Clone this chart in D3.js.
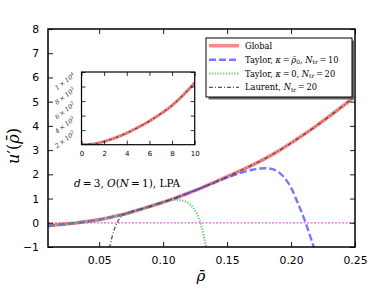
<!DOCTYPE html>
<html><head><meta charset="utf-8">
<script src="https://cdn.jsdelivr.net/npm/d3@7"></script>
<style>body{margin:0;background:#fff}svg{display:block}</style>
</head><body>
<script>
// ---------- data ----------
const globalRho = [0.01,0.02,0.03,0.04,0.05,0.06,0.07,0.08,0.09,0.10,0.11,0.12,0.13,0.14,0.15,0.16,0.17,0.18,0.19,0.20,0.21,0.22,0.23,0.24,0.25];
const globalU   = [-0.12,-0.07,-0.02,0.05,0.13,0.24,0.36,0.52,0.68,0.85,1.03,1.23,1.44,1.67,1.90,2.14,2.39,2.66,2.96,3.29,3.64,4.01,4.40,4.80,5.22];
const taylor1Rho = [0.01,0.02,0.03,0.04,0.05,0.06,0.07,0.08,0.09,0.10,0.11,0.12,0.13,0.14,0.15,0.16,0.17,0.175,0.18,0.185,0.19,0.195,0.20,0.205,0.21,0.214,0.218];
const taylor1U   = [-0.12,-0.07,-0.02,0.05,0.13,0.24,0.36,0.52,0.68,0.85,1.03,1.23,1.44,1.66,1.87,2.05,2.19,2.24,2.25,2.22,2.10,1.85,1.45,0.85,0.20,-0.40,-1.05];
const taylor2Rho = [0.01,0.02,0.03,0.04,0.05,0.06,0.07,0.08,0.09,0.10,0.105,0.11,0.115,0.12,0.125,0.128,0.13,0.132,0.134];
const taylor2U   = [-0.12,-0.07,-0.02,0.05,0.13,0.24,0.36,0.52,0.68,0.84,0.92,0.95,0.92,0.80,0.50,0.20,-0.15,-0.60,-1.10];
const laurentRho = [0.058,0.06,0.062,0.064,0.066,0.068,0.07,0.08,0.09,0.10,0.11,0.12,0.13,0.14,0.15,0.16,0.17,0.18,0.19,0.20,0.21,0.22,0.23,0.24,0.25];
const laurentU   = [-1.05,-0.60,-0.25,0.00,0.18,0.29,0.36,0.52,0.68,0.85,1.03,1.23,1.44,1.67,1.90,2.14,2.39,2.66,2.96,3.29,3.64,4.01,4.40,4.80,5.22];
const insetRho = [0,1,2,3,4,5,6,7,8,9,10];
const insetU   = [0,100,450,960,1600,2380,3250,4250,5400,6850,8500];
const xTicks = [0.05,0.10,0.15,0.20,0.25];
const xTickLabels = ["0.05","0.10","0.15","0.20","0.25"];
const yTicks = [-1,0,1,2,3,4,5,6,7,8];
const yTickLabels = ["\u22121","0","1","2","3","4","5","6","7","8"];
const insetXTicks = [0,2,4,6,8,10];
const insetYTicks = [2000,4000,6000,8000,10000];
const insetYTickLabels = [["2","3"],["4","3"],["6","3"],["8","3"],["1","4"]];
const legendLabels = ["Global","Taylor1","Taylor2","Laurent"];

// ---------- layout ----------
const W=374,H=291;
const M={l:48,r:355,t:29,b:247};
const I={l:81.5,r:194.7,t:72,b:144.7};
const svg=d3.select("body").append("svg").attr("width",W).attr("height",H);
const x=d3.scaleLinear().domain([0.01,0.25]).range([M.l,M.r]);
const y=d3.scaleLinear().domain([-1,8]).range([M.b,M.t]);
const xi=d3.scaleLinear().domain([0,10]).range([I.l,I.r]);
const yi=d3.scaleLinear().domain([0,10000]).range([I.b,I.t]);
const sans="'DejaVu Sans', sans-serif";
const serif="'DejaVu Serif','Liberation Serif', serif";
const defs=svg.append("defs");
defs.append("clipPath").attr("id","cm").append("rect").attr("x",M.l).attr("y",M.t).attr("width",M.r-M.l).attr("height",M.b-M.t);
defs.append("clipPath").attr("id","ci").append("rect").attr("x",I.l).attr("y",I.t).attr("width",I.r-I.l).attr("height",I.b-I.t);

const styles={
 Global:{stroke:"#ff3b3b",w:3.6,op:0.6,dash:null},
 Taylor1:{stroke:"#4b4bff",w:2.4,op:0.75,dash:"7,3"},
 Taylor2:{stroke:"#4cbb4c",w:2.2,op:0.75,dash:"1.4,1.4"},
 Laurent:{stroke:"#444",w:1.3,op:0.9,dash:"4,2,1,2"}
};
function draw(g,xs,ys,X,Y,st){
  const line=d3.line().x(d=>X(d[0])).y(d=>Y(d[1])).curve(d3.curveMonotoneX);
  const p=g.append("path").datum(d3.zip(xs,ys)).attr("d",line).attr("fill","none")
   .attr("stroke",st.stroke).attr("stroke-width",st.w).attr("stroke-opacity",st.op);
  if(st.dash) p.attr("stroke-dasharray",st.dash);
}
// ---------- main plot ----------
const gm=svg.append("g").attr("clip-path","url(#cm)");
gm.append("line").attr("x1",M.l).attr("x2",M.r).attr("y1",y(0)).attr("y2",y(0))
  .attr("stroke","#d86ad8").attr("stroke-width",1.3).attr("stroke-dasharray","2,1.5");
draw(gm,globalRho,globalU,x,y,styles.Global);
draw(gm,taylor1Rho,taylor1U,x,y,styles.Taylor1);
draw(gm,taylor2Rho,taylor2U,x,y,styles.Taylor2);
draw(gm,laurentRho,laurentU,x,y,styles.Laurent);

// axes
const ax=svg.append("g");
ax.append("g").attr("transform",`translate(0,${M.b})`).call(d3.axisBottom(x).tickValues(xTicks).tickFormat((d,i)=>xTickLabels[i]).tickSizeInner(-5).tickSizeOuter(0).tickPadding(9));
ax.append("g").attr("transform",`translate(0,${M.t})`).call(d3.axisTop(x).tickValues(xTicks).tickFormat("").tickSizeInner(-5).tickSizeOuter(0));
ax.append("g").attr("transform",`translate(${M.l},0)`).call(d3.axisLeft(y).tickValues(yTicks).tickFormat((d,i)=>yTickLabels[i]).tickSizeInner(-5).tickSizeOuter(0).tickPadding(9));
ax.append("g").attr("transform",`translate(${M.r},0)`).call(d3.axisRight(y).tickValues(yTicks).tickFormat("").tickSizeInner(-5).tickSizeOuter(0));
ax.selectAll(".domain").remove();
ax.selectAll("text").attr("font-family",sans).attr("font-size",10.8).attr("fill","#000");
ax.selectAll(".tick line").attr("stroke","#000").attr("stroke-width",0.9);
svg.append("rect").attr("x",M.l).attr("y",M.t).attr("width",M.r-M.l).attr("height",M.b-M.t)
  .attr("fill","none").attr("stroke","#000").attr("stroke-width",1.5);

// axis labels
const yl=svg.append("text").attr("transform","translate(19,146) rotate(-90)").attr("text-anchor","middle")
  .attr("font-family",serif).attr("font-size",16);
yl.append("tspan").attr("font-style","italic").text("u");
yl.append("tspan").text("\u2032(");
yl.append("tspan").attr("font-style","italic").text("\u03C1\u0304");
yl.append("tspan").text(")");
svg.append("text").attr("x",201).attr("y",281).attr("text-anchor","middle").attr("font-family",serif)
  .attr("font-size",15).attr("font-style","italic").text("\u03C1\u0304");

// annotation
const an=svg.append("text").attr("x",74).attr("y",187).attr("font-family",serif).attr("font-size",10.5);
an.append("tspan").attr("font-style","italic").text("d");
an.append("tspan").text("\u2009=\u20093, ");
an.append("tspan").attr("font-style","italic").text("O");
an.append("tspan").text("(");
an.append("tspan").attr("font-style","italic").text("N");
an.append("tspan").text("\u2009=\u20091), LPA");

// ---------- inset ----------
svg.append("rect").attr("x",I.l).attr("y",I.t).attr("width",I.r-I.l).attr("height",I.b-I.t).attr("fill","#fff");
const gi=svg.append("g").attr("clip-path","url(#ci)");
draw(gi,insetRho,insetU,xi,yi,{stroke:"#ff3b3b",w:3.2,op:0.6,dash:null});
draw(gi,insetRho.slice(0,2),insetU.slice(0,2),xi,yi,{stroke:"#4b4bff",w:2,op:0.7,dash:"4,2"});
draw(gi,insetRho,insetU,xi,yi,{stroke:"#333",w:1.1,op:0.9,dash:"3,1.5,1,1.5"});
const ia=svg.append("g");
ia.append("g").attr("transform",`translate(0,${I.b})`).call(d3.axisBottom(xi).tickValues(insetXTicks).tickSizeInner(-4).tickSizeOuter(0).tickPadding(6));
ia.append("g").attr("transform",`translate(0,${I.t})`).call(d3.axisTop(xi).tickValues(insetXTicks).tickFormat("").tickSizeInner(-4).tickSizeOuter(0));
ia.append("g").attr("transform",`translate(${I.l},0)`).call(d3.axisLeft(yi).tickValues(insetYTicks).tickFormat("").tickSizeInner(-4).tickSizeOuter(0));
ia.append("g").attr("transform",`translate(${I.r},0)`).call(d3.axisRight(yi).tickValues(insetYTicks).tickFormat("").tickSizeInner(-4).tickSizeOuter(0));
ia.selectAll(".domain").remove();
ia.selectAll("text").attr("font-family",sans).attr("font-size",7).attr("fill","#000");
ia.selectAll(".tick line").attr("stroke","#000").attr("stroke-width",0.8);
svg.append("rect").attr("x",I.l).attr("y",I.t).attr("width",I.r-I.l).attr("height",I.b-I.t)
  .attr("fill","none").attr("stroke","#000").attr("stroke-width",1.2);
insetYTicks.forEach((v,i)=>{
  const t=svg.append("text").attr("transform",`translate(${I.l-6},${yi(v)+4}) rotate(-38)`)
   .attr("text-anchor","end").attr("font-family",serif).attr("font-size",6.5).attr("font-style","italic").attr("fill","#333");
  t.append("tspan").text(insetYTickLabels[i][0]+"\u2009\u00D7\u200910");
  t.append("tspan").attr("dy",-2.2).attr("font-size",4.6).text(insetYTickLabels[i][1]);
});

// ---------- legend ----------
const L={x:206,y:38,w:146,h:59};
svg.append("rect").attr("x",L.x+2.5).attr("y",L.y+2.5).attr("width",L.w).attr("height",L.h).attr("fill","#666");
svg.append("rect").attr("x",L.x).attr("y",L.y).attr("width",L.w).attr("height",L.h).attr("fill","#fff").attr("stroke","#000").attr("stroke-width",1);
const legY=[45.7,59.7,73.5,87.3];
legendLabels.forEach((k,i)=>{
  const st=styles[k];
  const l=svg.append("line").attr("x1",209).attr("x2",239).attr("y1",legY[i]).attr("y2",legY[i])
   .attr("stroke",st.stroke).attr("stroke-width",st.w).attr("stroke-opacity",st.op);
  if(st.dash) l.attr("stroke-dasharray",st.dash);
  const t=svg.append("text").attr("x",245).attr("y",legY[i]+3).attr("font-family",serif).attr("font-size",8.3);
  const sub=(s)=>{t.append("tspan").attr("font-style","italic").text("N");t.append("tspan").attr("font-size",6).attr("dy",1.5).text("tr");t.append("tspan").attr("dy",-1.5).text(s);};
  if(k==="Global") t.text("Global");
  if(k==="Taylor1"){t.append("tspan").text("Taylor, ");t.append("tspan").attr("font-style","italic").text("\u03BA");t.append("tspan").text("\u2009=\u2009");t.append("tspan").attr("font-style","italic").text("\u03C1\u0304");t.append("tspan").attr("font-size",6).attr("dy",1.5).text("0");t.append("tspan").attr("dy",-1.5).text(", ");sub("\u2009=\u200910");}
  if(k==="Taylor2"){t.append("tspan").text("Taylor, ");t.append("tspan").attr("font-style","italic").text("\u03BA");t.append("tspan").text("\u2009=\u20090, ");sub("\u2009=\u200920");}
  if(k==="Laurent"){t.append("tspan").text("Laurent, ");sub("\u2009=\u200920");}
});
</script>
</body></html>
